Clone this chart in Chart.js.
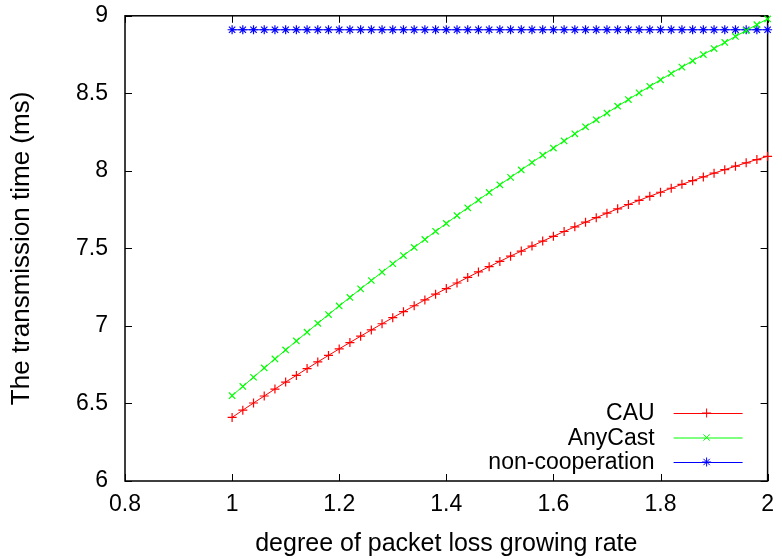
<!DOCTYPE html>
<html>
<head>
<meta charset="utf-8">
<script src="https://cdn.jsdelivr.net/npm/chart.js@4/dist/chart.umd.min.js"></script>
<style>
html,body{margin:0;padding:0;background:#fff;}
#wrap{width:782px;height:559px;position:relative;overflow:hidden;}
#c{position:absolute;left:0;top:-15px;}
</style>
</head>
<body>
<div id="wrap"><canvas id="c" width="784" height="574"></canvas></div>
<script>
const xValues = [1.00,1.02,1.04,1.06,1.08,1.10,1.12,1.14,1.16,1.18,1.20,1.22,1.24,1.26,1.28,1.30,1.32,1.34,1.36,1.38,1.40,1.42,1.44,1.46,1.48,1.50,1.52,1.54,1.56,1.58,1.60,1.62,1.64,1.66,1.68,1.70,1.72,1.74,1.76,1.78,1.80,1.82,1.84,1.86,1.88,1.90,1.92,1.94,1.96,1.98,2.00];
const cauValues = [6.410,6.457,6.503,6.548,6.593,6.638,6.681,6.725,6.768,6.810,6.852,6.893,6.934,6.974,7.014,7.053,7.092,7.130,7.168,7.205,7.241,7.277,7.313,7.348,7.382,7.416,7.450,7.483,7.515,7.547,7.578,7.609,7.639,7.669,7.698,7.727,7.755,7.783,7.810,7.836,7.862,7.888,7.913,7.937,7.961,7.985,8.008,8.030,8.052,8.073,8.094];
const anyCastValues = [6.550,6.610,6.669,6.729,6.787,6.845,6.903,6.960,7.017,7.073,7.129,7.184,7.239,7.293,7.347,7.401,7.454,7.506,7.558,7.610,7.661,7.712,7.762,7.812,7.861,7.910,7.958,8.006,8.054,8.101,8.147,8.193,8.239,8.284,8.329,8.373,8.417,8.460,8.503,8.545,8.587,8.628,8.669,8.710,8.750,8.789,8.828,8.867,8.905,8.943,8.980];
const nonCoopValues = [8.91,8.91,8.91,8.91,8.91,8.91,8.91,8.91,8.91,8.91,8.91,8.91,8.91,8.91,8.91,8.91,8.91,8.91,8.91,8.91,8.91,8.91,8.91,8.91,8.91,8.91,8.91,8.91,8.91,8.91,8.91,8.91,8.91,8.91,8.91,8.91,8.91,8.91,8.91,8.91,8.91,8.91,8.91,8.91,8.91,8.91,8.91,8.91,8.91,8.91,8.91];
const seriesLabels = ["CAU","AnyCast","non-cooperation"];
const xTickValues = [0.8,1,1.2,1.4,1.6,1.8,2];
const yTickValues = [6,6.5,7,7.5,8,8.5,9];
const xTitle = "degree of packet loss growing rate";
const yTitle = "The transmission time (ms)";

const FONT = "'Liberation Sans', Arial, Helvetica, sans-serif";
const toPts = ys => xValues.map((x,i)=>({x:x,y:ys[i]}));

const frameAndTicks = {
  id:'frameAndTicks',
  beforeDatasetsDraw(chart){
    const {ctx, chartArea:a, scales:{x,y}} = chart;
    ctx.save();
    ctx.strokeStyle = '#000';
    ctx.lineWidth = 1;
    const L = 7;
    ctx.beginPath();
    x.ticks.forEach(t=>{
      const px = Math.round(x.getPixelForValue(t.value))+0.5;
      ctx.moveTo(px,a.bottom); ctx.lineTo(px,a.bottom-L);
      ctx.moveTo(px,a.top); ctx.lineTo(px,a.top+L);
    });
    y.ticks.forEach(t=>{
      const py = Math.round(y.getPixelForValue(t.value))+0.5;
      ctx.moveTo(a.left,py); ctx.lineTo(a.left+L,py);
      ctx.moveTo(a.right,py); ctx.lineTo(a.right-L,py);
    });
    ctx.stroke();
    ctx.lineWidth = 1.5;
    ctx.strokeRect(a.left, a.top, a.right-a.left, a.bottom-a.top);
    ctx.restore();
  }
};

const keyBox = {
  id:'keyBox',
  afterDatasetsDraw(chart){
    const {ctx, chartArea:a} = chart;
    ctx.save();
    ctx.font = "23px " + FONT;
    ctx.textAlign = 'right';
    ctx.textBaseline = 'middle';
    chart.data.datasets.forEach((ds,i)=>{
      const yy = a.bottom - 68 + i*24.5;
      ctx.fillStyle = '#000';
      ctx.fillText(ds.label, a.right-113, yy+1);
      ctx.strokeStyle = ds.borderColor;
      ctx.lineWidth = 1;
      ctx.beginPath();
      ctx.moveTo(a.right-94, yy+0.5); ctx.lineTo(a.right-25, yy+0.5);
      ctx.stroke();
      Chart.helpers.drawPoint(ctx, {pointStyle:ds.pointStyle, radius:ds.pointRadius, borderWidth:1, rotation:0}, a.right-61, yy);
    });
    ctx.restore();
  }
};

const mk = (label, data, color, style) => ({
  label, data: toPts(data), borderColor: color, backgroundColor: color,
  pointBorderColor: color, pointBackgroundColor: color,
  borderWidth: 1, pointRadius: 4.5, pointBorderWidth: 1.2, pointStyle: style,
  tension: 0, clip: false, fill: false
});

new Chart(document.getElementById('c'), {
  type: 'line',
  data: {
    datasets: [
      mk(seriesLabels[0], cauValues, '#ff0000', 'cross'),
      mk(seriesLabels[1], anyCastValues, '#00ff00', 'crossRot'),
      mk(seriesLabels[2], nonCoopValues, '#0000ff', 'star')
    ]
  },
  options: {
    responsive: false,
    animation: false,
    devicePixelRatio: 1,
    layout: { padding: { left: 0, top: 14, right: 12, bottom: 0 } },
    plugins: { legend: { display: false }, tooltip: { enabled: false } },
    scales: {
      x: {
        type: 'linear', min: 0.8, max: 2,
        afterBuildTicks: s => { s.ticks = xTickValues.map(v=>({value:v})); },
        afterFit: s => { s.height = 78; },
        grid: { display: false, drawTicks: false },
        border: { display: false },
        ticks: { color: '#000', font: { family: FONT, size: 23 }, padding: 10, maxRotation: 0, autoSkip: false, callback: v => String(v) },
        title: { display: true, text: xTitle, color: '#000', font: { family: FONT, size: 25 }, padding: { top: 0, bottom: 0 } }
      },
      y: {
        type: 'linear', min: 6, max: 9,
        afterBuildTicks: s => { s.ticks = yTickValues.map(v=>({value:v})); },
        afterFit: s => { s.width = 125; },
        grid: { display: false, drawTicks: false },
        border: { display: false },
        ticks: { color: '#000', font: { family: FONT, size: 23 }, padding: 17, autoSkip: false, callback: v => String(v) },
        title: { display: true, text: yTitle, color: '#000', font: { family: FONT, size: 26 }, padding: { top: 6, bottom: 0 } }
      }
    }
  },
  plugins: [frameAndTicks, keyBox]
});
</script>
</body>
</html>
